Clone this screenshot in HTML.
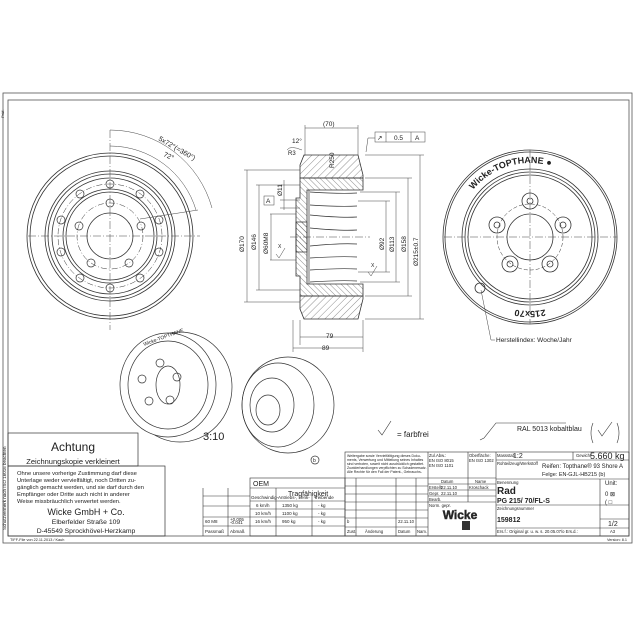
<!DOCTYPE html>
<html><head><meta charset="utf-8"><style>
html,body{margin:0;padding:0;background:#fff}
svg{display:block}
text{font-family:"Liberation Sans",sans-serif;fill:#222}
</style></head><body>
<svg width="637" height="637" viewBox="0 0 637 637" xmlns="http://www.w3.org/2000/svg">
<g fill="none" stroke="#555" stroke-width="0.8">
<rect x="3" y="93" width="629" height="450"/>
<rect x="8" y="100" width="621" height="436"/>
</g>
<text x="4" y="118" font-size="4" transform="rotate(-90 4 118)">Prüf.</text>
<text x="6" y="530" font-size="4.5" transform="rotate(-90 6 530)">Schutzvermerk nach ISO 16016 beachten</text>

<!-- LEFT VIEW -->
<g fill="none" stroke="#333" stroke-width="0.8">
<circle cx="110" cy="236" r="83"/>
<circle cx="110" cy="236" r="80"/>
<circle cx="110" cy="236" r="65"/>
<circle cx="110" cy="236" r="62"/>
<circle cx="110" cy="236" r="58"/>
<circle cx="110" cy="236" r="47"/>
<circle cx="110" cy="236" r="44"/>
<circle cx="110" cy="236" r="23"/>
<circle cx="110" cy="236" r="33" stroke-dasharray="6,2,1,2" stroke-width="0.5"/>
<circle cx="110" cy="236" r="52" stroke-dasharray="6,2,1,2" stroke-width="0.5"/>
</g>
<g fill="none" stroke="#333" stroke-width="0.7">
<circle cx="110" cy="203" r="4"/><circle cx="141" cy="226" r="4"/><circle cx="129" cy="263" r="4"/><circle cx="91" cy="263" r="4"/><circle cx="79" cy="226" r="4"/>
<circle cx="110" cy="184" r="4"/><circle cx="140" cy="194" r="4"/><circle cx="159" cy="220" r="4"/><circle cx="159" cy="252" r="4"/><circle cx="140" cy="278" r="4"/><circle cx="110" cy="288" r="4"/><circle cx="80" cy="278" r="4"/><circle cx="61" cy="252" r="4"/><circle cx="61" cy="220" r="4"/><circle cx="80" cy="194" r="4"/>
</g>
<g stroke="#444" stroke-width="0.5" stroke-dasharray="8,2,1,2">
<line x1="28" y1="236" x2="200" y2="236"/><line x1="110" y1="130" x2="110" y2="330"/>
</g>
<g fill="none" stroke="#444" stroke-width="0.5">
<path d="M110 130 A106 106 0 0 1 212 208"/>
<path d="M110 146 A90 90 0 0 1 196 210"/>
<line x1="140" y1="219" x2="198" y2="210"/>
</g>
<text x="158" y="140" font-size="7" transform="rotate(30 158 140)">5x72°(=360°)</text>
<text x="163" y="156" font-size="7" transform="rotate(25 163 156)">72°</text>

<!-- SECTION VIEW -->
<defs>
<pattern id="h" width="5" height="5" patternUnits="userSpaceOnUse" patternTransform="rotate(45)"><line x1="0" y1="0" x2="0" y2="5" stroke="#444" stroke-width="0.6"/></pattern>
<pattern id="h2" width="4" height="4" patternUnits="userSpaceOnUse" patternTransform="rotate(-45)"><line x1="0" y1="0" x2="0" y2="4" stroke="#444" stroke-width="0.6"/></pattern>
<path id="arcTop" d="M456 237 A74 74 0 0 1 604 237"/>
</defs>
<g stroke="#333" stroke-width="0.8">
<path d="M304 155 L358 155 L363 175 L363 178 L300 178 L300 165 Z" fill="url(#h)"/>
<path d="M304 319 L358 319 L363 299 L363 296 L300 296 L300 309 Z" fill="url(#h)"/>
<path d="M300 178 L363 178 L363 190 L307 190 L307 252 L296 252 L296 198 L300 198 Z" fill="url(#h2)"/>
<path d="M300 296 L363 296 L363 284 L307 284 L307 222 L296 222 L296 276 L300 276 Z" fill="url(#h2)"/>
</g>
<g fill="none" stroke="#333" stroke-width="0.7">
<path d="M309 190 L309 284"/>
<path d="M310 192 Q340 194 357 193 M310 205 Q340 207 357 206 M310 215 Q340 218 357 217 M310 228 Q340 231 357 230"/>
<path d="M310 246 Q340 243 357 244 M310 258 Q340 256 357 257 M310 270 Q340 268 357 269 M310 282 Q340 280 357 281"/>
</g>
<g stroke="#444" stroke-width="0.5" fill="none">
<line x1="290" y1="237" x2="370" y2="237" stroke-dasharray="8,2,1,2"/>
<line x1="244" y1="170" x2="300" y2="170"/><line x1="244" y1="302" x2="300" y2="302"/>
<line x1="247" y1="170" x2="247" y2="302"/>
<line x1="256" y1="185" x2="300" y2="185"/><line x1="256" y1="290" x2="300" y2="290"/>
<line x1="259" y1="185" x2="259" y2="290"/>
<line x1="270" y1="214" x2="296" y2="214"/><line x1="270" y1="260" x2="296" y2="260"/>
<line x1="271" y1="214" x2="271" y2="260"/>
<line x1="280" y1="200" x2="300" y2="200"/><line x1="280" y1="208" x2="300" y2="208"/>
<line x1="284" y1="180" x2="284" y2="210"/>
<line x1="365" y1="155" x2="424" y2="155"/><line x1="365" y1="319" x2="424" y2="319"/><line x1="420" y1="155" x2="420" y2="319"/>
<line x1="365" y1="178" x2="412" y2="178"/><line x1="365" y1="296" x2="412" y2="296"/><line x1="408" y1="178" x2="408" y2="296"/>
<line x1="360" y1="192" x2="400" y2="192"/><line x1="360" y1="282" x2="400" y2="282"/><line x1="396" y1="192" x2="396" y2="282"/>
<line x1="358" y1="201" x2="390" y2="201"/><line x1="358" y1="272" x2="390" y2="272"/><line x1="386" y1="201" x2="386" y2="272"/>
<line x1="300" y1="320" x2="300" y2="345"/><line x1="363" y1="320" x2="363" y2="352"/><line x1="293" y1="320" x2="293" y2="352"/>
<line x1="300" y1="337" x2="363" y2="337"/><line x1="293" y1="348" x2="363" y2="348"/>
<line x1="305" y1="125" x2="305" y2="155"/><line x1="358" y1="125" x2="358" y2="155"/><line x1="305" y1="128" x2="358" y2="128"/>
<path d="M366 152 L368 138 L375 138"/>
<rect x="375" y="132" width="50" height="10"/><line x1="386" y1="132" x2="386" y2="142"/><line x1="411" y1="132" x2="411" y2="142"/>
<rect x="264" y="196" width="10" height="9"/>
<path d="M302 150 Q290 145 287 150"/>
</g>
<g font-size="6.5">
<text x="323" y="126">(70)</text>
<text x="326" y="338">79</text>
<text x="322" y="350">89</text>
<text x="394" y="140">0.5</text><text x="415" y="140">A</text><text x="377" y="140">↗</text>
<text x="266" y="203">A</text>
<text x="310" y="152" transform="rotate(-90 330 148)">R250</text>
<text x="292" y="143">12°</text>
<text x="288" y="155" font-size="6">R3</text>
<text transform="translate(244 252) rotate(-90)">Ø170</text>
<text transform="translate(256 250) rotate(-90)">Ø146</text>
<text transform="translate(268 254) rotate(-90)">Ø60M8</text>
<text transform="translate(282 196) rotate(-90)">Ø11</text>
<text transform="translate(384 250) rotate(-90)">Ø92</text>
<text transform="translate(394 252) rotate(-90)">Ø113</text>
<text transform="translate(406 252) rotate(-90)">Ø158</text>
<text transform="translate(418 266) rotate(-90)">Ø215±0.7</text>
<text x="278" y="248" font-size="5">X</text><text x="371" y="267" font-size="5">X</text>
</g>
<path d="M276 254 l3 4 l6 -10 M368 272 l3 4 l6 -10" stroke="#444" stroke-width="0.5" fill="none"/>

<!-- RIGHT VIEW -->
<g fill="none" stroke="#333" stroke-width="0.8">
<circle cx="530" cy="237" r="87"/><circle cx="530" cy="237" r="85"/>
<circle cx="530" cy="237" r="68"/><circle cx="530" cy="237" r="65"/><circle cx="530" cy="237" r="62"/>
<circle cx="530" cy="237" r="23"/>
<circle cx="530" cy="237" r="33" stroke-dasharray="4,2" stroke-width="0.5"/>
<circle cx="530" cy="201" r="8"/><circle cx="530" cy="201" r="3"/>
<circle cx="563" cy="225" r="8"/><circle cx="563" cy="225" r="3"/>
<circle cx="550" cy="264" r="8"/><circle cx="550" cy="264" r="3"/>
<circle cx="510" cy="264" r="8"/><circle cx="510" cy="264" r="3"/>
<circle cx="497" cy="225" r="8"/><circle cx="497" cy="225" r="3"/>
<circle cx="480" cy="288" r="5"/>
</g>
<g stroke="#444" stroke-width="0.5" stroke-dasharray="8,2,1,2"><line x1="444" y1="237" x2="617" y2="237"/><line x1="530" y1="150" x2="530" y2="324"/></g>
<path d="M481 290 L491 340 L495 340" stroke="#444" stroke-width="0.5" fill="none"/>
<text x="496" y="342" font-size="6.5">Herstellindex: Woche/Jahr</text>
<text font-size="9" font-weight="bold"><textPath href="#arcTop" startOffset="22%">Wicke-TOPTHANE ●</textPath></text>
<text font-size="9" font-weight="bold" text-anchor="middle" transform="rotate(180 530 237)"><textPath href="#arcTop" startOffset="50%">215x70</textPath></text>

<!-- 3D views -->
<g fill="none" stroke="#333" stroke-width="0.7">
<ellipse cx="180" cy="387" rx="52" ry="55"/>
<ellipse cx="168" cy="385" rx="48" ry="52" fill="#fff"/>
<ellipse cx="168" cy="385" rx="40" ry="44"/>
<ellipse cx="168" cy="385" rx="12" ry="19"/>
<circle cx="160" cy="363" r="4"/><circle cx="142" cy="379" r="4"/><circle cx="177" cy="377" r="4"/><circle cx="149" cy="401" r="4"/><circle cx="170" cy="400" r="4"/>
<ellipse cx="288" cy="405" rx="46" ry="48"/>
<ellipse cx="278" cy="405" rx="36" ry="42"/>
<ellipse cx="272" cy="405" rx="22" ry="27"/>
<ellipse cx="268" cy="410" rx="12" ry="15"/>
<circle cx="315" cy="460" r="4"/>
</g>
<text x="144" y="346" font-size="5" transform="rotate(-20 144 346)">Wicke-TOPTHANE</text>
<text x="203" y="440" font-size="11">3:10</text>
<text x="313" y="462" font-size="5">b</text>

<!-- symbols -->
<text x="397" y="437" font-size="8">= farbfrei</text>
<path d="M378 430 l4 5 l9 -14" stroke="#333" stroke-width="0.6" fill="none"/>
<text x="517" y="431" font-size="7">RAL 5013 kobaltblau</text>
<path d="M480 440 l4 -2 l12 -15 h70" stroke="#333" stroke-width="0.6" fill="none"/>
<path d="M593 423 q-4 10 0 20 M617 423 q4 10 0 20 M598 430 l4 6 l10 -14" stroke="#333" stroke-width="0.6" fill="none"/>

<!-- Achtung -->
<g fill="none" stroke="#333" stroke-width="0.7">
<rect x="8" y="433" width="130" height="33"/>
<rect x="8" y="466" width="157" height="70"/>
</g>
<text x="73" y="451" font-size="12" text-anchor="middle">Achtung</text>
<text x="73" y="464" font-size="7.5" text-anchor="middle">Zeichnungskopie verkleinert</text>
<g font-size="5.8"><text x="17" y="475">Ohne unsere vorherige Zustimmung darf diese</text>
<text x="17" y="482">Unterlage weder vervielfältigt, noch Dritten zu-</text>
<text x="17" y="489">gänglich gemacht werden, und sie darf durch den</text>
<text x="17" y="496">Empfänger oder Dritte auch nicht in anderer</text>
<text x="17" y="503">Weise missbräuchlich verwertet werden.</text></g>
<text x="86" y="515" font-size="9" text-anchor="middle">Wicke GmbH + Co.</text>
<text x="86" y="524" font-size="6.8" text-anchor="middle">Elberfelder Straße 109</text>
<text x="86" y="533" font-size="6.8" text-anchor="middle">D-45549 Sprockhövel-Herzkamp</text>
<text x="10" y="541" font-size="3.8">TIFF-File von 22.11.2013 / Kauh</text>
<text x="627" y="541" font-size="3.8" text-anchor="end">Version: 8.1</text>

<!-- middle tables -->
<g fill="none" stroke="#333" stroke-width="0.6">
<rect x="250" y="478" width="95" height="58"/>
<line x1="250" y1="488" x2="345" y2="488"/>
<line x1="250" y1="501" x2="345" y2="501"/><line x1="250" y1="509" x2="345" y2="509"/><line x1="250" y1="517" x2="345" y2="517"/><line x1="250" y1="526" x2="345" y2="526"/>
<line x1="276" y1="488" x2="276" y2="536"/><line x1="312" y1="496" x2="312" y2="536"/>
<line x1="203" y1="488" x2="203" y2="536"/><line x1="228" y1="488" x2="228" y2="536"/>
<line x1="203" y1="496" x2="250" y2="496"/><line x1="203" y1="506" x2="250" y2="506"/><line x1="203" y1="517" x2="250" y2="517"/><line x1="203" y1="526" x2="250" y2="526"/>
</g>
<g font-size="4.5">
<text x="253" y="486" font-size="7">OEM</text>
<text x="288" y="496" font-size="7">Tragfähigkeit</text>
<text x="251" y="499">Geschwindig-</text><text x="278" y="499">Antriebs-, Lenk-</text><text x="315" y="499">treibende</text>
<text x="256" y="507">6 km/h</text><text x="282" y="507">1350 kg</text><text x="318" y="507">- kg</text>
<text x="255" y="515">10 km/h</text><text x="282" y="515">1100 kg</text><text x="318" y="515">- kg</text>
<text x="255" y="523">16 km/h</text><text x="282" y="523">950 kg</text><text x="318" y="523">- kg</text>
<text x="205" y="523">60 M8</text><text x="230" y="521">+0.005</text><text x="230" y="524">-0.041</text>
<text x="205" y="533">Passmaß</text><text x="230" y="533">Abmaß</text>
</g>

<!-- title block -->
<g fill="none" stroke="#333" stroke-width="0.6">
<rect x="345" y="452" width="284" height="84"/>
<line x1="345" y1="478" x2="496" y2="478"/>
<line x1="428" y1="452" x2="428" y2="536"/><line x1="468" y1="452" x2="468" y2="502"/><line x1="496" y1="452" x2="496" y2="536"/>
<line x1="345" y1="486" x2="428" y2="486"/><line x1="345" y1="494" x2="428" y2="494"/><line x1="345" y1="502" x2="428" y2="502"/><line x1="345" y1="510" x2="428" y2="510"/><line x1="345" y1="518" x2="428" y2="518"/><line x1="345" y1="527" x2="428" y2="527"/>
<line x1="356" y1="478" x2="356" y2="536"/><line x1="396" y1="478" x2="396" y2="536"/><line x1="416" y1="478" x2="416" y2="536"/>
<line x1="428" y1="484" x2="496" y2="484"/><line x1="428" y1="490" x2="496" y2="490"/><line x1="428" y1="496" x2="496" y2="496"/><line x1="428" y1="502" x2="496" y2="502"/>
<line x1="496" y1="460" x2="629" y2="460"/><line x1="496" y1="479" x2="629" y2="479"/><line x1="496" y1="505" x2="629" y2="505"/><line x1="496" y1="528" x2="629" y2="528"/>
<line x1="573" y1="452" x2="573" y2="460"/><line x1="600" y1="479" x2="600" y2="536"/><line x1="600" y1="519" x2="629" y2="519"/>
</g>
<g font-size="3.5">
<text x="347" y="457">Weitergabe sowie Vervielfältigung dieses Doku-</text>
<text x="347" y="461">ments, Verwertung und Mitteilung seines Inhaltes</text>
<text x="347" y="465">sind verboten, soweit nicht ausdrücklich gestattet.</text>
<text x="347" y="469">Zuwiderhandlungen verpflichten zu Schadenersatz.</text>
<text x="347" y="473">Alle Rechte für den Fall der Patent-, Gebrauchs-</text>
</g>
<g font-size="4.2">
<text x="429" y="457">Zul.Abw.:</text><text x="429" y="462">EN ISO 8015</text><text x="429" y="467">EN ISO 1101</text>
<text x="469" y="457">Oberfläche:</text><text x="469" y="462">EN ISO 1302</text>
<text x="497" y="457">Massstab</text><text x="513" y="458" font-size="7">1:2</text>
<text x="576" y="457">Gewicht</text><text x="590" y="459" font-size="9">5.660 kg</text>
<text x="497" y="465">Rohteilzeug/Werkstoff</text>
<text x="542" y="468" font-size="6">Reifen: Topthane® 93 Shore A</text>
<text x="542" y="476" font-size="5.5">Felge: EN-GJL-HB215 (b)</text>
<text x="441" y="483">Datum</text><text x="475" y="483">Name</text>
<text x="429" y="489">Erstellt</text><text x="441" y="489">22.11.10</text><text x="469" y="489">Kroschack</text>
<text x="429" y="495">Gepr.</text><text x="441" y="495">22.11.10</text>
<text x="429" y="501">Bearb.</text>
<text x="429" y="507">Norm. gepr.</text>
<text x="497" y="484">Benennung</text>
<text x="497" y="510">Zeichnungsnummer</text>
<text x="497" y="533">Ers.f.: Original gr. u. w. s. 20.05.07/o Ers.d.:</text>
<text x="605" y="485" font-size="6">Unit:</text>
<text x="605" y="496" font-size="6">0 ⊠</text><text x="605" y="504" font-size="6">( □</text>
<text x="608" y="526" font-size="7">1/2</text><text x="610" y="533">A3</text>
<text x="347" y="533">Zust.</text><text x="365" y="533">Änderung</text><text x="398" y="533">Datum</text><text x="417" y="533">Nam.</text>
<text x="347" y="523">b</text><text x="398" y="523">22.11.10</text>
</g>
<text x="497" y="494" font-size="10" font-weight="bold">Rad</text>
<text x="497" y="503" font-size="7" font-weight="bold">PG 215/ 70/FL-S</text>
<text x="497" y="522" font-size="7" font-weight="bold">159812</text>
<text x="460" y="519" font-size="12" font-weight="bold" text-anchor="middle" fill="#fff" stroke="#333" stroke-width="0.5">Wicke</text>
<rect x="462" y="521" width="8" height="9" fill="#333"/>
</svg>
</body></html>
